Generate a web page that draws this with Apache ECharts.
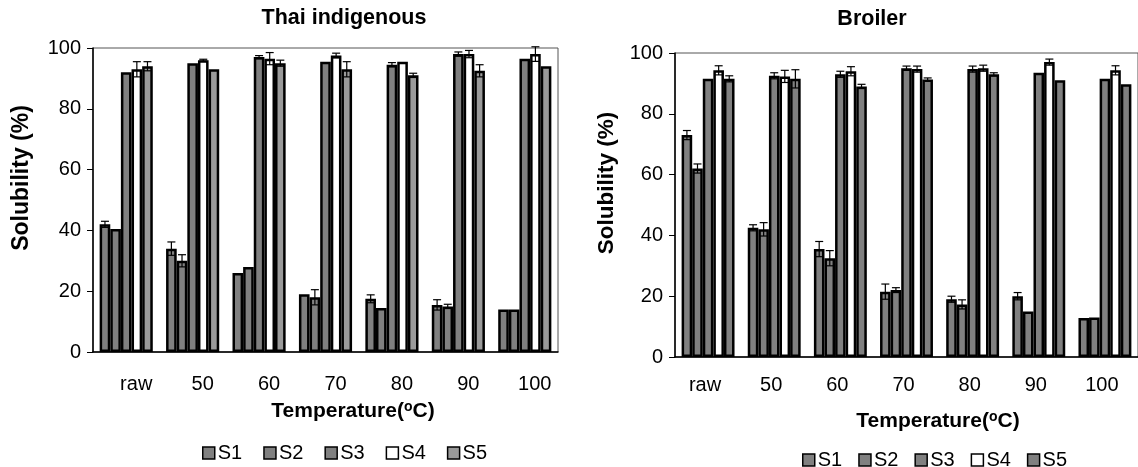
<!DOCTYPE html>
<html>
<head>
<meta charset="utf-8">
<script src="https://cdn.jsdelivr.net/npm/echarts@6/dist/echarts.min.js"></script>
<style>
  html, body { margin: 0; padding: 0; background: #fff; overflow: hidden; }
  #thai { position: absolute; left: 0; top: 0; width: 580px; height: 467px; }
  #broiler { position: absolute; left: 580px; top: 0; width: 558px; height: 467px; }
</style>
</head>
<body>
<div id="thai"></div>
<div id="broiler"></div>
<script>
// categories and series
const categories = ['raw', '50', '60', '70', '80', '90', '100']
const seriesNames = ['S1', 'S2', 'S3', 'S4', 'S5']
const yTicks = [0, 20, 40, 60, 80, 100]

// Thai indigenous, solubility (%)
const thaiS1 = [42, 34, 26, 19, 17.5, 15.5, 14]
const thaiS2 = [40.5, 30, 28, 18, 14.5, 15, 14]
const thaiS3 = [92, 95, 97, 95.5, 94.5, 98, 96.5]
const thaiS4 = [93, 96, 96.5, 97.5, 95.5, 98, 98]
const thaiS5 = [94, 93, 95, 93, 91, 92.5, 94]
// error (±)
const thaiS1Err = [1, 2.2, 0, 0, 1.3, 1.7, 0]
const thaiS2Err = [0, 2, 0, 2.5, 0, 0.7, 0]
const thaiS3Err = [0, 0, 0.5, 0, 0.7, 0.7, 0]
const thaiS4Err = [2.5, 0.3, 2, 0.8, 0, 1.2, 2.4]
const thaiS5Err = [1.5, 0, 1, 2.5, 0.7, 2, 0]

// Broiler, solubility (%)
const brS1 = [73, 42.5, 35.5, 21.5, 19, 20, 12.8]
const brS2 = [62, 42, 32.5, 22, 17.3, 15, 13]
const brS3 = [91.5, 92.5, 93, 95, 94.7, 93.5, 91.5]
const brS4 = [94.3, 92.3, 94, 94.7, 95, 97, 94.3]
const brS5 = [91.5, 91.5, 89, 91.3, 93, 91, 89.7]
// error (±)
const brS1Err = [1.5, 1, 2.5, 2.5, 1, 1.2, 0]
const brS2Err = [1.5, 2.2, 2.5, 0.8, 1.5, 0, 0]
const brS3Err = [0, 1, 1, 0.7, 1, 0, 0]
const brS4Err = [1.5, 2, 1.5, 1, 1, 1, 1.5]
const brS5Err = [1, 3, 0.7, 0.5, 0.5, 0, 0]

const FONT = '"Liberation Sans", Arial, sans-serif'
const GAP = 0.2 // barCategoryGap

function errorSeries(idx, values, errs) {
  return {
    type: 'custom',
    name: 'err' + idx,
    z: 10,
    data: values.map((v, i) => [i, v, errs[i]]),
    renderItem: function(params, api) {
      const err = api.value(2)
      if (!err) return null
      const cat = api.value(0)
      const val = api.value(1)
      const band = api.size([1, 0])[0]
      const bw = band * (1 - GAP) / seriesNames.length
      const x = api.coord([cat, val])[0] - band * (1 - GAP) / 2 + bw * (idx + 0.5)
      const yTop = api.coord([cat, val + err])[1]
      const yBot = api.coord([cat, val - err])[1]
      const cap = 4
      const style = { stroke: '#000', lineWidth: 1.2 }
      return {
        type: 'group',
        children: [
          { type: 'line', shape: { x1: x, y1: yTop, x2: x, y2: yBot }, style: style },
          { type: 'line', shape: { x1: x - cap, y1: yTop, x2: x + cap, y2: yTop }, style: style },
          { type: 'line', shape: { x1: x - cap, y1: yBot, x2: x + cap, y2: yBot }, style: style }
        ]
      }
    }
  }
}

function buildOption(cfg) {
  const series = []
  cfg.values.forEach((vals, i) => {
    series.push({
      type: 'bar',
      name: seriesNames[i],
      data: vals,
      barGap: '0%',
      barCategoryGap: GAP * 100 + '%',
      itemStyle: { color: cfg.colors[i], borderColor: '#000', borderWidth: 2.5 }
    })
  })
  cfg.values.forEach((vals, i) => {
    series.push(errorSeries(i, vals, cfg.errs[i]))
  })
  return {
    animation: false,
    textStyle: { fontFamily: FONT },
    graphic: [
      {
        type: 'text', x: cfg.titleX, y: cfg.titleY,
        style: { text: cfg.title, font: 'bold 21.5px ' + FONT, fill: '#000', align: 'center', verticalAlign: 'middle' }
      },
      {
        type: 'text', x: cfg.xNameX, y: cfg.xNameY,
        style: {
          text: 'Temperature({s|o}C)',
          rich: { s: { fontSize: 14, fontWeight: 'bold', fontFamily: FONT, verticalAlign: 'top', padding: [0, 0, 8, 0] } },
          font: 'bold 21px ' + FONT, fill: '#000', align: 'center', verticalAlign: 'middle'
        }
      },
      {
        // y axis name
        type: 'text', x: cfg.yNameX, y: cfg.yNameY, rotation: Math.PI / 2,
        style: { text: 'Solubility (%)', font: 'bold ' + cfg.yNameSize + 'px ' + FONT, fill: '#000', align: 'center', verticalAlign: 'middle' }
      }
    ],
    legend: {
      data: seriesNames,
      left: cfg.legendLeft,
      top: cfg.legendTop,
      itemWidth: 12,
      itemHeight: 12,
      itemGap: cfg.legendGap,
      icon: 'rect',
      itemStyle: { borderColor: '#000', borderWidth: 1.5 },
      textStyle: { fontSize: 20, color: '#000', fontFamily: FONT, padding: [0, 0, 0, -2] }
    },
    grid: {
      left: cfg.grid.left, top: cfg.grid.top, width: cfg.grid.width, height: cfg.grid.height,
      show: true, borderColor: '#555', borderWidth: 1
    },
    xAxis: {
      type: 'category',
      data: categories,
      axisLine: { lineStyle: { color: '#000', width: 1.5 } },
      axisTick: { length: 6, lineStyle: { color: '#000' } },
      axisLabel: { fontSize: 20, color: '#000', margin: cfg.xLabelMargin, padding: cfg.xLabelPad }
    },
    yAxis: {
      type: 'value',
      min: 0, max: 100, interval: 20,
      axisLine: { show: true, lineStyle: { color: '#000', width: 1.5 } },
      axisTick: { show: true, length: 6, lineStyle: { color: '#000' } },
      splitLine: { show: false },
      axisLabel: { fontSize: 20, color: '#000', margin: 12,
        formatter: v => (yTicks.indexOf(v) >= 0 ? String(v) : '') }
    },
    series: series
  }
}

const thaiChart = echarts.init(document.getElementById('thai'))
thaiChart.setOption(buildOption({
  title: 'Thai indigenous', titleX: 344, titleY: 18,
  xNameX: 353, xNameY: 411,
  yNameX: 22, yNameY: 178, yNameSize: 23,
  legendLeft: 197, legendTop: 438, legendGap: 21,
  grid: { left: 93, top: 48, width: 465, height: 304 },
  xLabelMargin: 22, xLabelPad: [0, 0, 0, 20],
  values: [thaiS1, thaiS2, thaiS3, thaiS4, thaiS5],
  errs: [thaiS1Err, thaiS2Err, thaiS3Err, thaiS4Err, thaiS5Err],
  colors: ['#808080', '#808080', '#808080', '#ffffff', '#9a9a9a']
}))

const broilerChart = echarts.init(document.getElementById('broiler'))
broilerChart.setOption(buildOption({
  title: 'Broiler', titleX: 292, titleY: 19,
  xNameX: 358, xNameY: 421,
  yNameX: 27, yNameY: 183, yNameSize: 22.5,
  legendLeft: 217, legendTop: 445, legendGap: 16,
  grid: { left: 95, top: 53, width: 468, height: 304 },
  xLabelMargin: 18, xLabelPad: [0, 6, 0, 0],
  values: [brS1, brS2, brS3, brS4, brS5],
  errs: [brS1Err, brS2Err, brS3Err, brS4Err, brS5Err],
  colors: ['#808080', '#808080', '#808080', '#ffffff', '#808080']
}))
</script>
</body>
</html>
